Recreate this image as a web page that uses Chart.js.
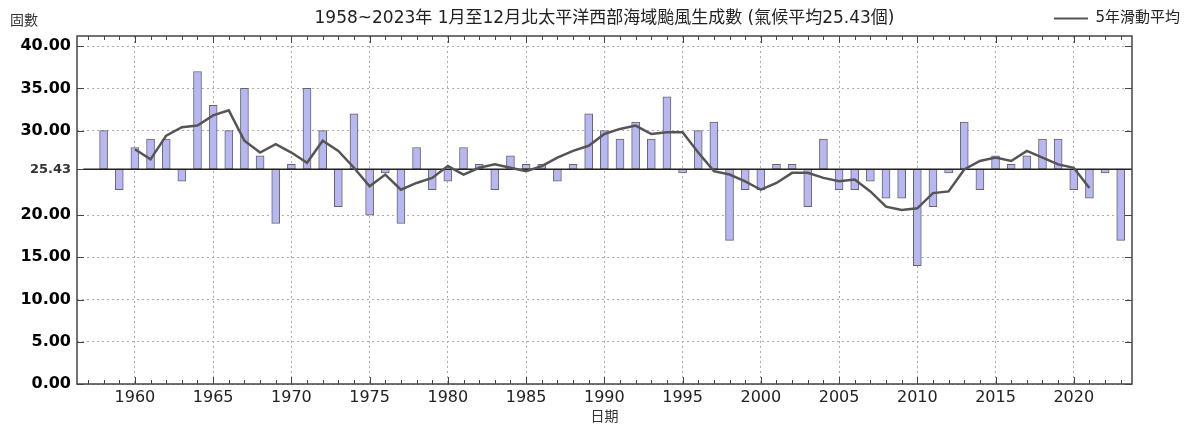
<!DOCTYPE html>
<html lang="zh-Hant">
<head>
    <meta charset="UTF-8">
    <title>颱風生成數</title>
    <script src="https://cdn.jsdelivr.net/npm/chart.js@4.4.1/dist/chart.umd.min.js"></script>
    <style>
        html, body { margin: 0; padding: 0; background: #fff; }
        .wrap { width: 1188px; height: 426px; }
    </style>
</head>
<body>
<div class="wrap">
    <canvas id="typhoon" width="1188" height="426"></canvas>
</div>
<script>
    // 每年颱風生成數
    const years = [];
    for (let y = 1958; y <= 2023; y++) years.push(y);
    const counts = [
        30, 23, 28, 29, 29, 24, 37, 33, 30, 35,   // 1958-1967
        27, 19, 26, 35, 30, 21, 32, 20, 25, 19,   // 1968-1977
        28, 23, 24, 28, 26, 23, 27, 26, 26, 24,   // 1978-1987
        26, 32, 30, 29, 31, 29, 34, 25, 30, 31,   // 1988-1997
        17, 23, 23, 26, 26, 21, 29, 23, 23, 24,   // 1998-2007
        22, 22, 14, 21, 25, 31, 23, 27, 26, 27,   // 2008-2017
        29, 29, 23, 22, 25, 17                    // 2018-2023
    ];

    // 5年滑動平均 (1960-2021)
    const maYears = [];
    for (let y = 1960; y <= 2021; y++) maYears.push(y);
    const maValues = [
        27.8, 26.6, 29.4, 30.4, 30.6, 31.8, 32.4, 28.8, 27.4, 28.4,   // 1960-1969
        27.4, 26.2, 28.8, 27.6, 25.6, 23.4, 24.8, 23.0, 23.8, 24.4,   // 1970-1979
        25.8, 24.8, 25.6, 26.0, 25.6, 25.2, 25.8, 26.8, 27.6, 28.2,   // 1980-1989
        29.6, 30.2, 30.6, 29.6, 29.8, 29.8, 27.4, 25.2, 24.8, 24.0,   // 1990-1999
        23.0, 23.8, 25.0, 25.0, 24.4, 24.0, 24.2, 22.8, 21.0, 20.6,   // 2000-2009
        20.8, 22.6, 22.8, 25.4, 26.4, 26.8, 26.4, 27.6, 26.8, 26.0,   // 2010-2019
        25.6, 23.2                                                    // 2020-2021
    ];

    const climateMean = 25.43;
    const yTicks = [0, 5, 10, 15, 20, climateMean, 30, 35, 40];
    const xTicks = [1960, 1965, 1970, 1975, 1980, 1985, 1990, 1995, 2000, 2005, 2010, 2015, 2020];

    const titleText = '1958~2023年 1月至12月北太平洋西部海域颱風生成數 (氣候平均25.43個)';
    const yLabelText = '固數';
    const fontFamily = "'DejaVu Sans', 'Noto Sans CJK TC', sans-serif";

    // 外框、刻度、標題
    const framePlugin = {
        id: 'frame',
        afterDraw(chart) {
            const ctx = chart.ctx;
            const area = chart.chartArea;
            const xs = chart.scales.x;
            const ys = chart.scales.y;
            ctx.save();
            ctx.strokeStyle = '#444';
            ctx.lineWidth = 1.5;
            ctx.strokeRect(area.left, area.top, area.right - area.left, area.bottom - area.top);

            ctx.lineWidth = 1;
            ctx.beginPath();
            for (let y = 1957; y <= 2023; y++) {
                const px = Math.round(xs.getPixelForValue(y)) + 0.5;
                const len = (y % 5 === 0) ? 7 : 4;
                ctx.moveTo(px, area.bottom);
                ctx.lineTo(px, area.bottom - len);
                ctx.moveTo(px, area.top);
                ctx.lineTo(px, area.top + len);
            }
            yTicks.forEach(v => {
                const py = Math.round(ys.getPixelForValue(v)) + 0.5;
                ctx.moveTo(area.left, py);
                ctx.lineTo(area.left + 7, py);
                if (v !== climateMean) {
                    ctx.moveTo(area.right, py);
                    ctx.lineTo(area.right - 7, py);
                }
            });
            ctx.stroke();

            ctx.fillStyle = '#222';
            ctx.font = '17px ' + fontFamily;
            ctx.textAlign = 'center';
            ctx.textBaseline = 'middle';
            ctx.fillText(titleText, (area.left + area.right) / 2, 19);

            ctx.fillStyle = '#333';
            ctx.font = '14px ' + fontFamily;
            ctx.textAlign = 'left';
            ctx.fillText(yLabelText, 10, 21);
            ctx.restore();
        }
    };

    const ctx = document.getElementById('typhoon').getContext('2d');
    const chart = new Chart(ctx, {
        type: 'bar',
        data: {
            datasets: [
                {
                    type: 'bar',
                    label: '颱風生成數',
                    data: years.map((y, i) => ({ x: y, y: [climateMean, counts[i]] })),
                    backgroundColor: '#b7b7f4',
                    borderColor: '#666',
                    borderWidth: 1,
                    borderSkipped: false,
                    barThickness: 8,
                    order: 2
                },
                {
                    type: 'line',
                    label: '5年滑動平均',
                    data: maYears.map((y, i) => ({ x: y, y: maValues[i] })),
                    borderColor: '#555',
                    backgroundColor: '#555',
                    borderWidth: 2.5,
                    pointRadius: 0,
                    tension: 0,
                    order: 0
                },
                {
                    type: 'line',
                    label: 'baseline',
                    data: [{ x: 1956.7, y: climateMean }, { x: 2023.72, y: climateMean }],
                    borderColor: '#222',
                    borderWidth: 1.5,
                    pointRadius: 0,
                    order: 1
                }
            ]
        },
        options: {
            responsive: false,
            animation: false,
            layout: { padding: { top: 3, left: 0, right: 0, bottom: 0 } },
            scales: {
                x: {
                    type: 'linear',
                    offset: false,
                    min: 1956.3,
                    max: 2023.72,
                    afterBuildTicks: s => { s.ticks = xTicks.map(v => ({ value: v })); },
                    afterFit: s => { s.height = 42; },
                    ticks: {
                        callback: v => String(v),
                        font: { family: fontFamily, size: 16 },
                        color: '#222',
                        padding: 4,
                        maxRotation: 0
                    },
                    grid: { color: '#aaa', drawTicks: false, offset: false },
                    border: { display: false, dash: [2, 3] },
                    title: {
                        display: true,
                        text: '日期',
                        font: { family: fontFamily, size: 14 },
                        color: '#333',
                        padding: 0
                    }
                },
                y: {
                    min: 0,
                    max: 41.2,
                    afterBuildTicks: s => { s.ticks = yTicks.map(v => ({ value: v })); },
                    afterFit: s => { s.width = 77; },
                    ticks: {
                        callback: v => v.toFixed(2),
                        font: c => c.tick && c.tick.value === climateMean
                            ? { family: fontFamily, size: 13, weight: 'bold' }
                            : { family: fontFamily, size: 16, weight: 'bold' },
                        color: c => c.tick && c.tick.value === climateMean ? '#333' : '#000',
                        padding: 6
                    },
                    grid: {
                        color: c => c.tick && c.tick.value === climateMean ? 'rgba(0,0,0,0)' : '#aaa',
                        drawTicks: false
                    },
                    border: { display: false, dash: [2, 3] }
                },
                yr: {
                    position: 'right',
                    min: 0,
                    max: 41.2,
                    afterFit: s => { s.width = 56; },
                    ticks: { display: false },
                    grid: { display: false },
                    border: { display: false }
                }
            },
            plugins: {
                title: { display: false },
                tooltip: { enabled: false },
                legend: {
                    display: true,
                    position: 'top',
                    align: 'end',
                    labels: {
                        boxWidth: 34,
                        boxHeight: 2,
                        padding: 8,
                        color: '#222',
                        font: { family: fontFamily, size: 15 },
                        filter: item => item.text === '5年滑動平均',
                        generateLabels: ch => Chart.defaults.plugins.legend.labels.generateLabels(ch)
                            .map(l => Object.assign(l, { lineWidth: 0, fillStyle: '#555' }))
                    }
                }
            }
        },
        plugins: [framePlugin]
    });
</script>
</body>
</html>
